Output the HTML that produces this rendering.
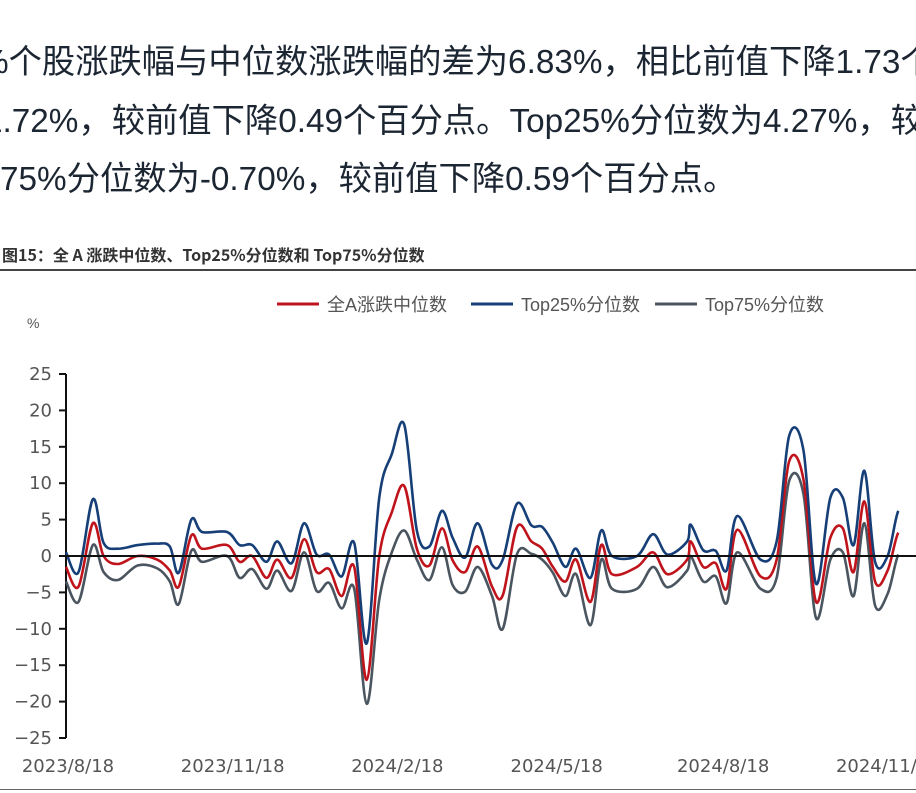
<!DOCTYPE html>
<html><head><meta charset="utf-8">
<style>
body{margin:0;width:916px;height:793px;overflow:hidden;background:#fff;position:relative;font-family:"Liberation Sans","Noto Sans CJK SC",sans-serif;}
.t{position:absolute;white-space:nowrap;font-size:33.3px;line-height:40px;color:#1c2633;font-family:"Liberation Sans","Noto Sans CJK SC",sans-serif;}
</style></head><body>
<div class="t" style="left:-21px;top:43px;">%个股涨跌幅与中位数涨跌幅的差为6.83%，相比前值下降1.73个</div>
<div class="t" style="left:-16px;top:102px;">1.72%，较前值下降0.49个百分点。Top25%分位数为4.27%，较</div>
<div class="t" style="left:0px;top:160px;">75%分位数为-0.70%，较前值下降0.59个百分点。</div>
<div style="position:absolute;left:2px;top:242px;font-size:16px;font-weight:bold;color:#333;font-family:'Noto Sans CJK SC',sans-serif;white-space:nowrap;">图15：全 A 涨跌中位数、Top25%分位数和 Top75%分位数</div>
<div style="position:absolute;left:0;top:269px;width:916px;height:2px;background:#444;"></div>
<div style="position:absolute;left:0;top:789px;width:916px;height:1px;background:#666;"></div>
<svg id="c" width="916" height="793" style="position:absolute;left:0;top:0"></svg>
<script>
const days=[0,7,15,21,29,40,51,58,63,70,76,90,97,104,112,118,126,133,140,147,154,161,168,175,182,189,196,203,210,216,223,230,238,244,252,260,266,272,279,285,293,299,305,319,328,336,347,349,356,363,369,375,388,397,404,412,419,427,434,440,446,452,459,465,470,478,485];
const median=[-1.5,-4.2,4.5,0,-1.1,0,-0.5,-2,-4.2,2.8,1,1.5,-0.8,0,-3,-0.5,-3,2.3,-2.2,-1.8,-5.5,-1.5,-17,0,6,9.6,1,-1.3,3.8,-0.6,-2.2,1.3,-4.2,-5.4,4,2,1,-1.5,-3.5,-0.5,-6.3,1.5,-2.5,-1.5,0.5,-2.5,-0.5,2,-1.5,-1,-4.5,3.6,-2.8,-0.5,13,10.5,-6.3,2.5,3.8,-2.2,7.5,-3.5,-2,3.2,2];
const top25=[0.5,-2.2,7.8,1.8,1,1.5,1.7,1.3,-2.3,5,3.3,3.3,1.5,1.5,-0.8,2,-1,4.5,0.2,0.2,-2.8,1.8,-12,8,14,18,3.5,1.3,6.2,2.5,-0.2,4.5,-1.2,-0.5,7.2,4.2,4,1.8,-1.5,1,-3,3.5,0,0,3,0.2,2,4.3,0.8,0.7,-2,5.5,-0.5,2,16.5,14.5,-3.8,8,8,1.5,11.7,-0.8,0,6.2,5];
const top75=[-3.5,-6.3,1.5,-2.2,-3.3,-1.3,-1.7,-3.5,-6.6,0.7,-0.8,0,-3,-1.8,-4.5,-2,-4.8,0.5,-4.8,-3.7,-7.2,-4.5,-20.3,-6,0.5,3.5,-0.5,-3.3,1.2,-4,-4.9,-1.5,-5.5,-10,0.3,0.3,-0.5,-2.3,-5.5,-2.5,-9.5,-0.5,-4.5,-4.5,-1.5,-4.3,-2,0,-3.5,-2.8,-6.5,0.5,-4.5,-3,10.3,8.5,-8.5,-0.5,0.5,-5.5,4.5,-6.8,-5.2,0.2,0];
const yTicks=[25,20,15,10,5,0,-5,-10,-15,-20,-25];
const xLabels=["2023/8/18","2023/11/18","2024/2/18","2024/5/18","2024/8/18","2024/11/18"];
const xLabelDays=[0,92,184,273,366,458];
const seriesNames=["全A涨跌中位数","Top25%分位数","Top75%分位数"];

const svg=document.getElementById('c');const NS='http://www.w3.org/2000/svg';
const X=d=>66+d*1.79;const Y=v=>556-v*7.28;
function mk(t,a){const e=document.createElementNS(NS,t);for(const k in a)e.setAttribute(k,a[k]);svg.appendChild(e);return e;}
function path(vals,color,name){
  const p=days.map((d,i)=>[X(d),Y(vals[i])]);
  let s=`M${p[0][0]},${p[0][1]}`;
  for(let i=0;i<p.length-1;i++){const p0=p[i-1]||p[i],p1=p[i],p2=p[i+1],p3=p[i+2]||p2;
    s+=` C${p1[0]+(p2[0]-p0[0])/6},${p1[1]+(p2[1]-p0[1])/6} ${p2[0]-(p3[0]-p1[0])/6},${p2[1]-(p3[1]-p1[1])/6} ${p2[0]},${p2[1]}`;}
  const e=mk('path',{d:s,fill:'none',stroke:color,'stroke-width':2.6,'stroke-linejoin':'round'});
  
  
}
const ya=mk('line',{x1:66,y1:Y(25),x2:66,y2:Y(-25),stroke:'#111','stroke-width':2});


yTicks.forEach(v=>{
  const tk=mk('line',{x1:59,x2:66,y1:Y(v),y2:Y(v),stroke:'#111','stroke-width':2});
  
  
  const t=mk('text',{x:52,y:Y(v)+6,'text-anchor':'end','font-size':18,fill:'#555','font-family':'DejaVu Sans, sans-serif'});
  t.textContent=v<0?'−'+(-v):String(v);
  
  
});
xLabels.forEach((l,i)=>{
  const t=mk('text',{x:X(xLabelDays[i])+2,y:772,'text-anchor':'middle','font-size':18,fill:'#555','font-family':'DejaVu Sans, sans-serif'});
  t.textContent=l;
  
  
});
const ut=mk('text',{x:27,y:328,'font-size':14,fill:'#555'});ut.textContent='%';


path(top75,'#4a5560','series-top75');
path(median,'#c0141c','series-median');
path(top25,'#163f78','series-top25');
const za=mk('line',{x1:66,y1:Y(0),x2:916,y2:Y(0),stroke:'#111','stroke-width':2});


const colors=['#c0141c','#163f78','#4a5560'];const lx=[277,471,655];
seriesNames.forEach((n,i)=>{
  const l=mk('line',{x1:lx[i],x2:lx[i]+42,y1:304,y2:304,stroke:colors[i],'stroke-width':3});
  
  
  const t=mk('text',{x:lx[i]+50,y:311,'font-size':18,fill:'#555','font-family':'Liberation Sans, Noto Sans CJK SC, sans-serif'});
  t.textContent=n;
  
  
});
</script>
</body></html>
